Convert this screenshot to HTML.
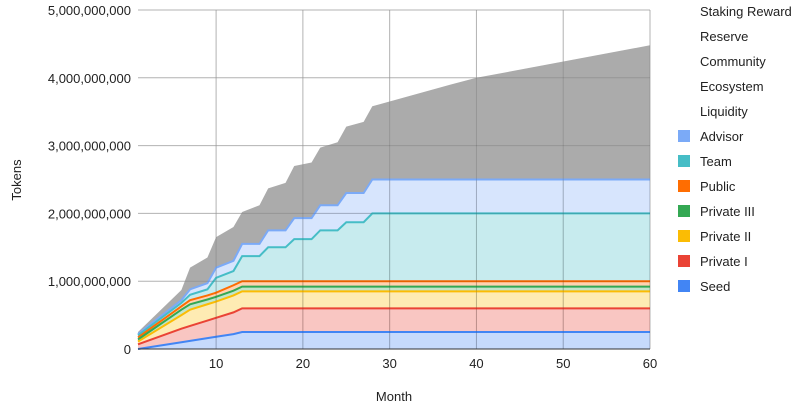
<!DOCTYPE html>
<html><head><meta charset="utf-8"><style>
body{margin:0;background:#fff;font-family:"Liberation Sans",Arial,sans-serif}
text{font-family:"Liberation Sans",Arial,sans-serif;fill:#222}
</style></head><body>
<svg id="c" width="800" height="409"></svg>
<script>
const months=[1,6,7,9,10,12,13,15,16,18,19,21,22,24,25,27,28,37,40,60];
const seed=[0,.10,.12,.16,.18,.22,.25,.25,.25,.25,.25,.25,.25,.25,.25,.25,.25,.25,.25,.25];
const privI=[.07,.30,.34,.42,.46,.54,.6,.6,.6,.6,.6,.6,.6,.6,.6,.6,.6,.6,.6,.6];
const privII=[.11,.5,.58,.66,.7,.79,.85,.85,.85,.85,.85,.85,.85,.85,.85,.85,.85,.85,.85,.85];
const privIII=[.14,.58,.66,.73,.77,.86,.92,.92,.92,.92,.92,.92,.92,.92,.92,.92,.92,.92,.92,.92];
const pub=[.17,.63,.72,.79,.83,.94,1,1,1,1,1,1,1,1,1,1,1,1,1,1];
const team=[.2,.68,.8,.88,1.05,1.15,1.37,1.37,1.5,1.5,1.62,1.62,1.75,1.75,1.87,1.87,2,2,2,2];
const advisor=[.22,.72,.88,.97,1.2,1.3,1.55,1.55,1.75,1.75,1.93,1.93,2.12,2.12,2.3,2.3,2.5,2.5,2.5,2.5];
const total=[.25,.87,1.2,1.35,1.65,1.8,2.02,2.12,2.37,2.45,2.7,2.75,2.97,3.05,3.28,3.35,3.58,3.9,4.0,4.48];
const yTicks=[0,1,2,3,4,5];
const yTickLabels=["0","1,000,000,000","2,000,000,000","3,000,000,000","4,000,000,000","5,000,000,000"];
const xTicks=[10,20,30,40,50,60];
const legendNames=["Staking Reward","Reserve","Community","Ecosystem","Liquidity","Advisor","Team","Public","Private III","Private II","Private I","Seed"];
const legendColors=[null,null,null,null,null,"#7baaf7","#46bdc6","#ff6d01","#34a853","#fbbc04","#ea4335","#4285f4"];

const svg=document.getElementById('c');const NS="http://www.w3.org/2000/svg";
const X=m=>138+(m-1)*(650-138)/59;
const Y=v=>349-v*67.8;
function el(t,a,p){const e=document.createElementNS(NS,t);for(const k in a)e.setAttribute(k,a[k]);(p||svg).appendChild(e);return e;}
// grid
xTicks.forEach(t=>{const l=el('line',{x1:X(t),x2:X(t),y1:10,y2:349,stroke:'#ccc'});


const tx=el('text',{x:X(t),y:368,'text-anchor':'middle','font-size':13});tx.textContent=t;

});
yTicks.forEach((t,i)=>{const l=el('line',{x1:138,x2:650,y1:Y(t),y2:Y(t),stroke:'#ccc'});


const tx=el('text',{x:131,y:Y(t)+5,'text-anchor':'end','font-size':13});tx.textContent=yTickLabels[i];

});
const series=[["gray-reserve-total",total,"#ababab","#a4a4a4"],["advisor",advisor,"#7baaf7","#7baaf7"],["team",team,"#46bdc6","#46bdc6"],["public",pub,"#ff6d01","#ff6d01"],["private-iii",privIII,"#34a853","#34a853"],["private-ii",privII,"#fbbc04","#fbbc04"],["private-i",privI,"#ea4335","#ea4335"],["seed",seed,"#4285f4","#4285f4"]];
series.forEach((s,i)=>{const top=s[1];const below=series[i+1]?series[i+1][1]:months.map(()=>0);
let d='M'+months.map((m,j)=>X(m)+','+Y(top[j])).join('L');
for(let j=months.length-1;j>=0;j--)d+='L'+X(months[j])+','+Y(below[j]);d+='Z';
const a=el('path',{d:d,fill:s[2],'fill-opacity':i==0?1:0.3,stroke:'none'});


if(i>0){const ln=el('path',{d:'M'+months.map((m,j)=>X(m)+','+Y(top[j])).join('L'),fill:'none',stroke:s[3],'stroke-width':2});

}});
// faint gridlines over areas
xTicks.forEach(t=>{const l=el('line',{x1:X(t),x2:X(t),y1:10,y2:349,stroke:'rgba(0,0,0,0.12)'});

});
yTicks.forEach((t,i)=>{const l=el('line',{x1:138,x2:650,y1:Y(t),y2:Y(t),stroke:'rgba(0,0,0,0.12)'});

});
// axis
const ax=el('line',{x1:138,x2:650,y1:349,y2:349,stroke:'#333'});


const yt=el('text',{x:21,y:180,'text-anchor':'middle','font-size':13,transform:'rotate(-90 21 180)'});yt.textContent='Tokens';


const xt=el('text',{x:394,y:401,'text-anchor':'middle','font-size':13});xt.textContent='Month';


legendNames.forEach((n,i)=>{const y=10+i*25;
if(legendColors[i]){const r=el('rect',{x:678,y:y-5,width:12,height:12,fill:legendColors[i]});

}
const t=el('text',{x:700,y:y+6,'font-size':13});t.textContent=n;

});
</script></body></html>
